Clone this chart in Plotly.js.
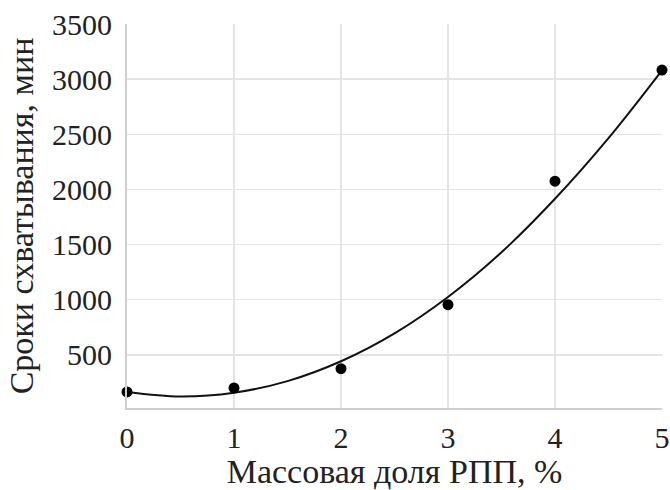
<!DOCTYPE html>
<html>
<head>
<meta charset="utf-8">
<script src="https://cdn.plot.ly/plotly-3.0.1.min.js"></script>
<style>html,body{margin:0;padding:0;background:#fff;}#chart{width:670px;height:490px;}</style>
</head>
<body>
<div id="chart"></div>
<script>
// Measured points
const massFraction = [0, 1, 2, 3, 4, 5];
const settingTime = [164, 200, 375, 955, 2075, 3082];
// Trend curve
const curveX = [0, 0.5, 1, 1.5, 2, 2.5, 3, 3.5, 4, 4.5, 5];
const curveY = [164, 123, 157, 262, 442, 695, 1025, 1430, 1915, 2465, 3080];
const yTicks = [500, 1000, 1500, 2000, 2500, 3000, 3500];
const xTicks = [0, 1, 2, 3, 4, 5];
const xTitle = "Массовая доля РПП, %";
const yTitle = "Сроки схватывания, мин";

const font = "Liberation Serif, Times New Roman, serif";

const traces = [
  {x: curveX, y: curveY, mode: "lines", line: {color: "#111", width: 2, shape: "spline", smoothing: 1}, hoverinfo: "skip", showlegend: false},
  {x: massFraction, y: settingTime, mode: "markers", marker: {color: "#000", size: 11}, cliponaxis: false, showlegend: false}
];

const layout = {
  width: 670, height: 490,
  margin: {l: 127, r: 8, t: 24, b: 82},
  paper_bgcolor: "#fff", plot_bgcolor: "#fff",
  font: {family: font, color: "#222", size: 30},
  showlegend: false,
  xaxis: {
    range: [0, 5], tickvals: xTicks, ticktext: xTicks.map(String),
    showgrid: true, gridcolor: "#e4e4e4", gridwidth: 1.5,
    showline: true, linecolor: "#cfcfcf", linewidth: 2,
    zeroline: false, ticks: "", ticklabelstandoff: 2,
    tickfont: {family: font, size: 30, color: "#222"},
    title: {text: xTitle, font: {family: font, size: 34, color: "#222"}, standoff: 8},
    automargin: false
  },
  yaxis: {
    range: [18, 3500], tickvals: yTicks, ticktext: yTicks.map(String),
    showgrid: true, gridcolor: "#e4e4e4", gridwidth: 1.5,
    showline: true, linecolor: "#cfcfcf", linewidth: 2,
    zeroline: false, ticks: "", ticklabelstandoff: 7,
    tickfont: {family: font, size: 30, color: "#222"},
    title: {text: yTitle, font: {family: font, size: 34, color: "#222"}, standoff: 8},
    automargin: false
  }
};

Plotly.newPlot("chart", traces, layout, {displayModeBar: false, staticPlot: true});
</script>
</body>
</html>
